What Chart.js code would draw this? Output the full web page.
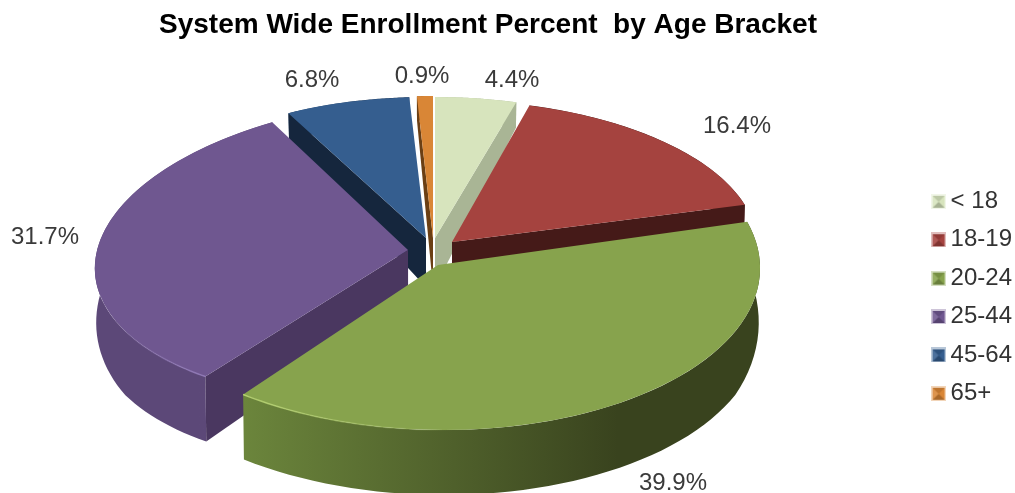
<!DOCTYPE html>
<html>
<head>
<meta charset="utf-8">
<title>System Wide Enrollment Percent by Age Bracket</title>
<script src="https://cdn.jsdelivr.net/npm/chart.js@4"></script>
<style>
  html, body { margin: 0; padding: 0; background: #fff; }
  canvas { display: block; }
</style>
</head>
<body>
<canvas id="pie" width="1015" height="493"></canvas>
<script>
const ageBrackets = ["< 18", "18-19", "20-24", "25-44", "45-64", "65+"];
const enrollment = [4.4, 16.4, 39.9, 31.7, 6.8, 0.9];

const topColors = ["#D7E4BD", "#A5433F", "#87A34D", "#6F5790", "#355E8F", "#D98636"];
const cutColors = ["#A9B595", "#451A18", "#3A431F", "#4A3760", "#15263D", "#6B3F14"];
const wallFrom = ["#B5C2A0", "#6E2C2A", "#6F8A3E", "#5C4878", "#264468", "#9C5F26"];
const wallTo = ["#A9B595", "#451A18", "#39431E", "#5F4A7C", "#15263D", "#6B3F14"];

// where each exploded slice sits on the page (the photo has a fake perspective)
const sliceCenterX = [435, 452, 438, 408, 426, 433];
const sliceCenterY = [238, 242, 265, 250, 238, 238];
const sliceRadiusX = [298, 305, 322, 313, 296, 285];
const sliceRadiusY = [141, 142, 165, 151, 141, 142];
const sliceShearX = [0, 6, 6, -11, 0, 0];
const sliceShearY = [0, 0, 0, -13, 0, 0];
const paintOrder = [4, 5, 0, 1, 3, 2];

const labelX = [512, 737, 673, 45, 312, 422];
const labelY = [80, 126, 483, 237, 80, 76];

const FONT = "'Liberation Sans', Arial, sans-serif";

function wallDepth(y) {
  return Math.min(65, 25 + (y - 100) * 0.175);
}

function onTop(i, angle) {
  const c = Math.cos(angle), s = Math.sin(angle);
  return [
    sliceCenterX[i] + sliceRadiusX[i] * c + sliceShearX[i] * s,
    sliceCenterY[i] + sliceShearY[i] * c + sliceRadiusY[i] * s
  ];
}

function below(p) {
  return [p[0] + (438 - p[0]) * 0.004, p[1] + wallDepth(p[1])];
}

function fillPoly(ctx, pts, fill) {
  ctx.beginPath();
  pts.forEach((p, n) => n ? ctx.lineTo(p[0], p[1]) : ctx.moveTo(p[0], p[1]));
  ctx.closePath();
  ctx.fillStyle = fill;
  ctx.fill();
}

function drawSides(ctx, i, arc) {
  const apex = [sliceCenterX[i], sliceCenterY[i]];
  const a = onTop(i, arc.startAngle);
  const b = onTop(i, arc.endAngle);

  const rim = [];
  for (let n = 0; n <= 60; n++) {
    rim.push(onTop(i, arc.startAngle + (arc.endAngle - arc.startAngle) * n / 60));
  }
  const left = sliceCenterX[i] - sliceRadiusX[i];
  const grad = ctx.createLinearGradient(left + 100, 0, sliceCenterX[i] + 180, 0);
  grad.addColorStop(0, wallFrom[i]);
  grad.addColorStop(1, wallTo[i]);
  fillPoly(ctx, rim.concat(rim.map(below).reverse()), grad);

  // a cut face only shows when the slice does not continue below that edge
  if (Math.cos(arc.startAngle) < 0) fillPoly(ctx, [apex, a, below(a), below(apex)], cutColors[i]);
  if (Math.cos(arc.endAngle) > 0) fillPoly(ctx, [apex, b, below(b), below(apex)], cutColors[i]);
}

// thin light bevel along the front corners of the two big slices
function drawBevel(ctx, i, from, to, color) {
  const start = onTop(i, from);
  const end = onTop(i, to);
  const grad = ctx.createLinearGradient(start[0], 0, end[0], 0);
  grad.addColorStop(0, color);
  grad.addColorStop(1, color + "00");
  ctx.beginPath();
  for (let n = 0; n <= 30; n++) {
    const p = onTop(i, from + (to - from) * n / 30);
    n ? ctx.lineTo(p[0], p[1]) : ctx.moveTo(p[0], p[1]);
  }
  ctx.strokeStyle = grad;
  ctx.lineWidth = 1.5;
  ctx.stroke();
}

const pie3d = {
  id: "pie3d",
  afterLayout(chart) {
    chart.titleBlock.left -= 19.5;
    chart.titleBlock.right -= 19.5;
    chart.legend.left += 7;
    chart.legend.right += 7;
  },
  beforeDatasetDraw(chart, args) {
    const ctx = chart.ctx;
    const arcs = args.meta.data;
    paintOrder.forEach(i => drawSides(ctx, i, arcs[i]));
    paintOrder.forEach(i => {
      const arc = arcs[i];
      const R = arc.outerRadius;
      ctx.save();
      ctx.transform(sliceRadiusX[i] / R, sliceShearY[i] / R, sliceShearX[i] / R, sliceRadiusY[i] / R,
        sliceCenterX[i], sliceCenterY[i]);
      ctx.translate(-arc.x, -arc.y);
      arc.draw(ctx);
      ctx.restore();
    });
    drawBevel(ctx, 2, arcs[2].endAngle, arcs[2].endAngle - 0.7, "#B4D070");
    drawBevel(ctx, 3, arcs[3].startAngle, arcs[3].startAngle + 0.5, "#8F78B5");
    return false;
  },
  afterDraw(chart) {
    const ctx = chart.ctx;
    ctx.save();
    ctx.font = "24px " + FONT;
    ctx.fillStyle = "#3A3A3A";
    ctx.textAlign = "center";
    ctx.textBaseline = "middle";
    enrollment.forEach((v, i) => {
      ctx.fillText(v.toFixed(1) + "%", labelX[i], labelY[i]);
    });
    ctx.restore();
  }
};

// little bevelled legend keys
function legendKey(color) {
  const c = document.createElement("canvas");
  c.width = 15;
  c.height = 15;
  const g = c.getContext("2d");
  g.fillStyle = color;
  g.globalAlpha = 0.35;
  g.fillRect(0, 0, 15, 15);
  g.globalAlpha = 1;
  g.fillRect(2, 2, 12, 12);
  fillPoly(g, [[2, 2], [14, 2], [8, 8]], "rgba(0,0,0,0.12)");
  fillPoly(g, [[2, 14], [14, 14], [8, 8]], "rgba(0,0,0,0.22)");
  fillPoly(g, [[2, 2], [2, 14], [8, 8]], "rgba(255,255,255,0.12)");
  return c;
}

new Chart(document.getElementById("pie"), {
  type: "pie",
  data: {
    labels: ageBrackets,
    datasets: [{
      data: enrollment,
      backgroundColor: topColors,
      borderWidth: 0
    }]
  },
  plugins: [pie3d],
  options: {
    responsive: false,
    animation: false,
    plugins: {
      tooltip: { enabled: false },
      title: {
        display: true,
        text: "System Wide Enrollment Percent  by Age Bracket",
        color: "#000",
        font: { family: FONT, size: 28, weight: "bold" },
        padding: { top: 8, bottom: 60 }
      },
      legend: {
        position: "right",
        fullSize: false,
        labels: {
          usePointStyle: true,
          pointStyleWidth: 1,
          color: "#333",
          font: { family: FONT, size: 24 },
          padding: 14.4,
          generateLabels: () => ageBrackets.map((name, i) => ({
            text: name,
            index: i,
            fontColor: "#333",
            pointStyle: legendKey(topColors[i]),
            hidden: false
          }))
        }
      }
    }
  }
});
</script>
</body>
</html>
